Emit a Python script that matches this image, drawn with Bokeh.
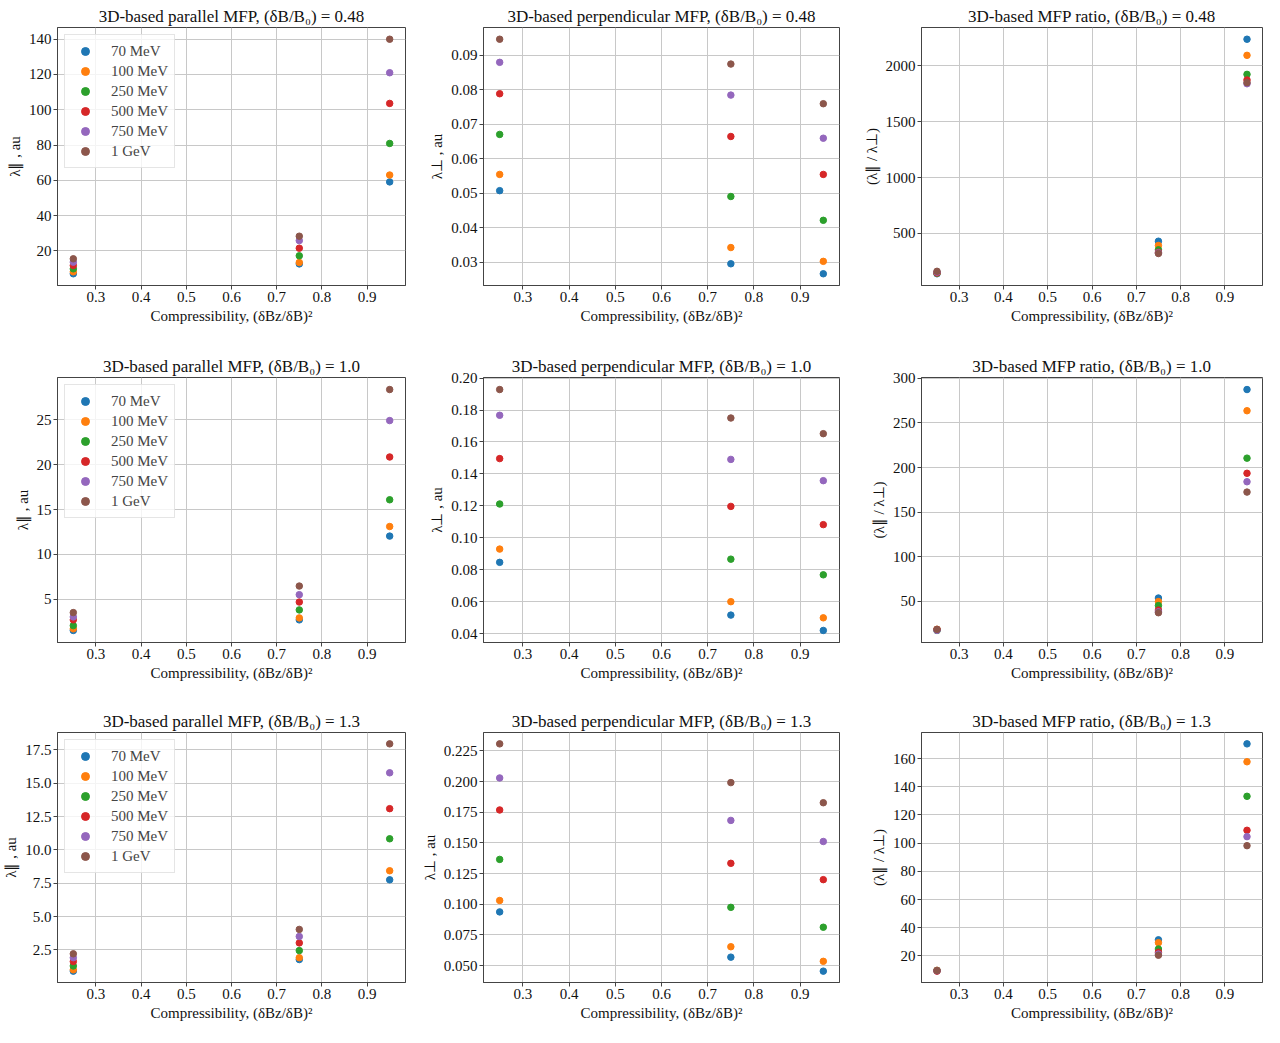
from bokeh.plotting import figure
from bokeh.layouts import gridplot
from bokeh.models import FixedTicker, NumeralTickFormatter
from bokeh.embed import file_html
from bokeh.resources import INLINE

compressibility = [0.25, 0.75, 0.95]
energies = ["70 MeV", "100 MeV", "250 MeV", "500 MeV", "750 MeV", "1 GeV"]
colors = ["#1f77b4", "#ff7f0e", "#2ca02c", "#d62728", "#9467bd", "#8c564b"]
x_ticks = [0.3, 0.4, 0.5, 0.6, 0.7, 0.8, 0.9]

# one row per energy, one value per compressibility
# dB/B0 = 0.48
par_048 = [[7.0, 12.6, 59.1], [8.1, 13.4, 63.0], [9.8, 17.2, 80.9],
           [11.7, 21.5, 103.6], [13.6, 25.8, 121.0], [15.5, 28.3, 140.0]]
perp_048 = [[0.0507, 0.0295, 0.0266], [0.0554, 0.0342, 0.0302], [0.0670, 0.0490, 0.0421],
            [0.0788, 0.0664, 0.0554], [0.0879, 0.0784, 0.0659], [0.0946, 0.0874, 0.0759]]
ratio_048 = [[140, 431, 2236], [146, 393, 2092], [146, 354, 1922],
             [148, 333, 1872], [155, 327, 1838], [162, 321, 1848]]
# dB/B0 = 1.0
par_10 = [[1.53, 2.71, 12.05], [1.71, 2.93, 13.12], [2.07, 3.82, 16.1],
          [2.71, 4.70, 20.87], [3.04, 5.52, 24.93], [3.52, 6.48, 28.39]]
perp_10 = [[0.0847, 0.0517, 0.0421], [0.0930, 0.0601, 0.0500], [0.1212, 0.0867, 0.0769],
           [0.1496, 0.1197, 0.1083], [0.1767, 0.1491, 0.1358], [0.1928, 0.1750, 0.1652]]
ratio_10 = [[18.1, 53.5, 287.5], [18.4, 49.5, 263.7], [17.1, 45.0, 210.5],
            [18.1, 40.0, 193.5], [17.2, 38.0, 184.0], [18.3, 37.0, 172.4]]
# dB/B0 = 1.3
par_13 = [[0.91, 1.78, 7.76], [1.01, 1.92, 8.44], [1.30, 2.45, 10.84],
          [1.63, 3.03, 13.10], [1.92, 3.51, 15.79], [2.21, 4.04, 17.96]]
perp_13 = [[0.0938, 0.0569, 0.0455], [0.1031, 0.0654, 0.0535], [0.1366, 0.0975, 0.0813],
           [0.1769, 0.1334, 0.1201], [0.2030, 0.1684, 0.1512], [0.2308, 0.1992, 0.1828]]
ratio_13 = [[9.7, 31.4, 170.4], [9.8, 29.4, 157.7], [9.5, 24.9, 133.2],
            [9.2, 22.6, 109.1], [9.5, 21.3, 104.6], [9.6, 20.5, 98.2]]

par_048_ticks = [20, 40, 60, 80, 100, 120, 140]
perp_048_ticks = [0.03, 0.04, 0.05, 0.06, 0.07, 0.08, 0.09]
ratio_048_ticks = [500, 1000, 1500, 2000]
par_10_ticks = [5, 10, 15, 20, 25]
perp_10_ticks = [0.04, 0.06, 0.08, 0.10, 0.12, 0.14, 0.16, 0.18, 0.20]
ratio_10_ticks = [50, 100, 150, 200, 250, 300]
par_13_ticks = [2.5, 5.0, 7.5, 10.0, 12.5, 15.0, 17.5]
perp_13_ticks = [0.050, 0.075, 0.100, 0.125, 0.150, 0.175, 0.200, 0.225]
ratio_13_ticks = [20, 40, 60, 80, 100, 120, 140, 160]

FONT = "Liberation Serif"
XLABEL = "Compressibility, (δBz/δB)²"

# cell sizes / borders so the frames sit like the original subplots
COL_W = [407, 434, 423]
COL_LEFT = [5, 76, 80]
ROW_H = [350, 350, 327]
ROW_TOP = [27, 27, 32]
ROW_BOTTOM = [65, 58, 45]


def panel(row, col, title, ylabel, data, ticks, fmt, legend=False):
    p = figure(width=COL_W[col], height=ROW_H[row], title=title, output_backend="svg",
               toolbar_location=None, x_axis_label=XLABEL, y_axis_label=ylabel,
               min_border_right=2, min_border_left=COL_LEFT[col],
               min_border_top=ROW_TOP[row], min_border_bottom=ROW_BOTTOM[row])
    for vals, name, c in zip(data, energies, colors):
        kw = dict(legend_label=name) if legend else {}
        p.scatter(compressibility, vals, size=6.5, fill_color=c, line_color=c, **kw)

    p.title.text_font = FONT
    p.title.text_font_size = "17px"
    p.title.text_font_style = "normal"
    p.title.text_color = "#111111"
    p.title.align = "center"
    p.title.offset = 0
    p.title.standoff = 3

    p.xaxis.ticker = FixedTicker(ticks=x_ticks)
    p.yaxis.ticker = FixedTicker(ticks=ticks)
    p.yaxis.formatter = NumeralTickFormatter(format=fmt)
    p.xaxis.formatter = NumeralTickFormatter(format="0.0")
    for ax in (p.xaxis, p.yaxis):
        ax.axis_label_text_font = FONT
        ax.axis_label_text_font_size = "15px"
        ax.axis_label_text_font_style = "normal"
        ax.major_label_text_font = FONT
        ax.major_label_text_font_size = "15px"
        ax.major_tick_in = 0
        ax.major_tick_out = 4
        ax.minor_tick_line_color = None
        ax.axis_line_color = "#444444"
        ax.major_tick_line_color = "#444444"
        ax.major_label_text_color = "#111111"
        ax.axis_label_text_color = "#111111"
        ax.axis_label_standoff = 3
        ax.major_label_standoff = 2

    p.grid.grid_line_color = "#c8c8c8"
    p.grid.grid_line_width = 1
    p.outline_line_color = "#444444"
    p.outline_line_alpha = 1

    if legend:
        p.legend.location = "top_left"
        p.legend.label_text_font = FONT
        p.legend.label_text_font_size = "15px"
        p.legend.border_line_color = "#cccccc"
        p.legend.background_fill_alpha = 0.8
        p.legend.spacing = 0
        p.legend.padding = 6
        p.legend.margin = 7
        p.legend.glyph_width = 28
        p.legend.glyph_height = 20
        p.legend.label_height = 20
        p.legend.label_standoff = 12
    return p


rows = [
    [panel(0, 0, "3D-based parallel MFP, (δB/B₀) = 0.48", "λ∥ , au", par_048, par_048_ticks, "0", True),
     panel(0, 1, "3D-based perpendicular MFP, (δB/B₀) = 0.48", "λ⊥ , au", perp_048, perp_048_ticks, "0.00"),
     panel(0, 2, "3D-based MFP ratio, (δB/B₀) = 0.48", "(λ∥ / λ⊥)", ratio_048, ratio_048_ticks, "0")],
    [panel(1, 0, "3D-based parallel MFP, (δB/B₀) = 1.0", "λ∥ , au", par_10, par_10_ticks, "0", True),
     panel(1, 1, "3D-based perpendicular MFP, (δB/B₀) = 1.0", "λ⊥ , au", perp_10, perp_10_ticks, "0.00"),
     panel(1, 2, "3D-based MFP ratio, (δB/B₀) = 1.0", "(λ∥ / λ⊥)", ratio_10, ratio_10_ticks, "0")],
    [panel(2, 0, "3D-based parallel MFP, (δB/B₀) = 1.3", "λ∥ , au", par_13, par_13_ticks, "0.0", True),
     panel(2, 1, "3D-based perpendicular MFP, (δB/B₀) = 1.3", "λ⊥ , au", perp_13, perp_13_ticks, "0.000"),
     panel(2, 2, "3D-based MFP ratio, (δB/B₀) = 1.3", "(λ∥ / λ⊥)", ratio_13, ratio_13_ticks, "0")],
]

p = gridplot(rows, toolbar_location=None)

open("out.html", "w").write(file_html(p, INLINE))
